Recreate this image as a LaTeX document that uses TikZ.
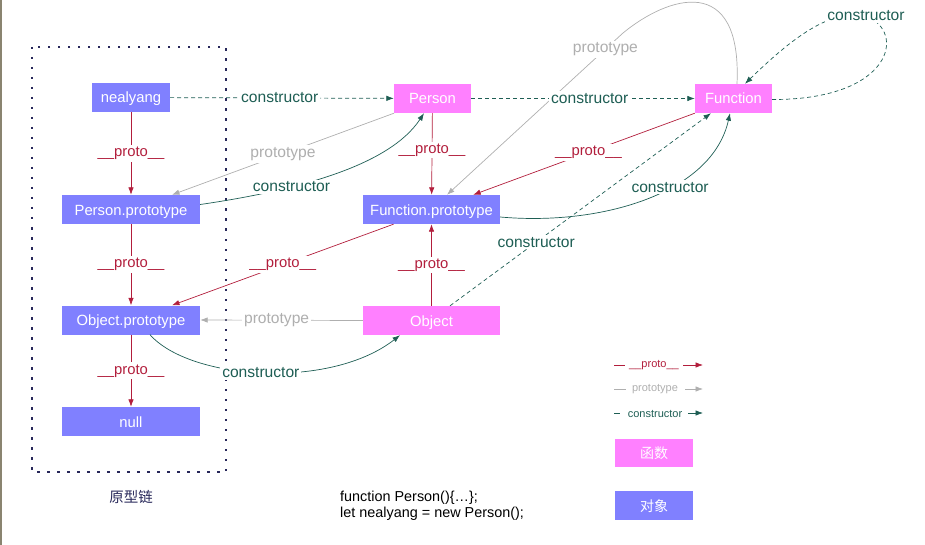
\documentclass[tikz,border=0pt]{standalone}
\usepackage{fontspec}
\setmainfont{Liberation Sans}
\newfontfamily\cjk{Noto Sans CJK SC}
\usetikzlibrary{arrows.meta}
\definecolor{objblue}{RGB}{128,128,255}
\definecolor{fnpink}{RGB}{255,128,255}
\definecolor{protored}{RGB}{178,30,60}
\definecolor{ptgray}{RGB}{175,175,175}
\definecolor{consteal}{RGB}{30,94,84}
\definecolor{boxnavy}{RGB}{40,40,90}
\definecolor{edgeline}{RGB}{138,132,112}
\begin{document}
\begin{tikzpicture}[x=1pt,y=-1pt,
  obj/.style={fill=objblue,text=white,minimum height=29pt,inner sep=0pt,text height=13pt,text depth=2pt,font=\fontsize{14.8}{16}\selectfont},
  fn/.style={fill=fnpink,text=white,minimum height=29pt,inner sep=0pt,text height=13pt,text depth=2pt,font=\fontsize{14.8}{16}\selectfont},
  tip/.style={-{Latex[length=7.5pt,width=5.5pt]}},
  protoedge/.style={tip,draw=protored,line width=0.7pt},
  ptedge/.style={tip,draw=ptgray,line width=0.7pt},
  consedge/.style={tip,draw=consteal,line width=0.7pt},
  dashedge/.style={dash pattern=on 4pt off 3pt},
  lbl/.style={fill=white,inner sep=2pt,font=\fontsize{15.6}{17}\selectfont},
  plbl/.style={lbl,text=protored,font=\fontsize{14.8}{17}\selectfont},
  glbl/.style={lbl,text=ptgray},
  clbl/.style={lbl,text=consteal},
  leg/.style={inner sep=0pt,font=\fontsize{11}{13}\selectfont},
]
\useasboundingbox (0,0) rectangle (925,545);
\fill[edgeline] (0,0) rectangle (1.8,545);

% dotted box
\draw[boxnavy,line width=1.6pt,dash pattern=on 2.5pt off 7.5pt] (32,47) rectangle (226,472);

% nodes
\node[obj,minimum width=78pt] (nealyang) at (131,97.5) {nealyang};
\node[obj,minimum width=138pt] (PP) at (131,209.5) {Person.prototype};
\node[obj,minimum width=138pt] (OP) at (131,320) {Object.prototype};
\node[obj,minimum width=138pt] (null) at (131,421.5) {null};
\node[fn,minimum width=77pt] (Person) at (432.5,98.5) {Person};
\node[obj,minimum width=137pt] (FP) at (431.5,209.5) {Function.prototype};
\node[fn,minimum width=137pt] (Obj) at (431.5,320.5) {Object};
\node[fn,minimum width=77pt] (Function) at (733.5,98.5) {Function};

% __proto__ edges
\draw[protoedge] (nealyang) -- node[plbl]{\_\_proto\_\_} (PP);
\draw[protoedge] (PP) -- node[plbl]{\_\_proto\_\_} (OP);
\draw[protoedge] (OP) -- node[plbl]{\_\_proto\_\_} (null);
\draw[protoedge] (Person) -- node[plbl,pos=0.45]{\_\_proto\_\_} (FP);
\draw[protoedge] (Obj) -- node[plbl]{\_\_proto\_\_} (FP);
\draw[protoedge] (Function.south west) -- node[plbl,pos=0.48]{\_\_proto\_\_} ([xshift=-27pt]FP.north east);
\draw[protoedge] ([xshift=-38pt]FP.south) -- node[plbl]{\_\_proto\_\_} ([xshift=41pt]OP.north);

% prototype edges
\draw[ptedge] ([xshift=-38.5pt]Person.south) -- node[glbl,pos=0.5]{prototype} ([xshift=41pt]PP.north);
\draw[ptedge] (Obj.west) -- node[glbl,pos=0.53]{prototype} (OP.east);
\draw[ptedge] ([xshift=3.5pt]Function.north) .. controls (742,-28) and (668,-4) .. (623,33)
  -- node[glbl,pos=0.1]{prototype} ([xshift=15.5pt]FP.north);

% constructor edges
\draw[consedge,dashedge] (nealyang) -- node[clbl,pos=0.49]{constructor} (Person);
\draw[consedge,dashedge] (Person) -- node[clbl,pos=0.53]{constructor} (Function);
\draw[consedge,dashedge] ([yshift=-1pt]Function.east) .. controls (892,100) and (907,32) .. (866,16)
  node[clbl]{constructor} .. controls (830,8) and (790,40) .. ([xshift=11.5pt]Function.north);
\draw[consedge] ([yshift=5pt]PP.east) .. controls (300,190) and (390,165) .. node[clbl,pos=0.32]{constructor} ([xshift=-8.5pt]Person.south);
\draw[consedge] ([yshift=-7.5pt]FP.east) .. controls (600,226) and (712,194) .. node[clbl,pos=0.6]{constructor} ([xshift=-3.5pt]Function.south);
\draw[consedge,dashedge] ([xshift=18.5pt]Obj.north) -- node[clbl,pos=0.33]{constructor} ([xshift=-22.5pt]Function.south);
\draw[consedge] ([xshift=19pt]OP.south) .. controls (190,380) and (330,390) .. node[clbl,pos=0.49]{constructor} ([xshift=-31.5pt]Obj.south);

% labels
\node[text=boxnavy,font=\cjk\fontsize{14.5}{16}\selectfont] (chain) at (131,497) {原型链};
\node[anchor=north west,align=left,inner sep=0pt,font=\fontsize{14.4}{16.5}\selectfont] (code) at (340,490.5)
  {function Person()\{…\};\\let nealyang = new Person();};

% legend
\coordinate (l1a) at (614,365); \coordinate (l1b) at (625,365);
\node[leg,text=protored] (lp) at (654,365) {\_\_proto\_\_};
\coordinate (l1c) at (683,365); \coordinate (l1d) at (703,365);
\draw[protored,line width=0.7pt] (l1a) -- (l1b);
\draw[protoedge] (l1c) -- (l1d);
\coordinate (l2a) at (614,389); \coordinate (l2b) at (626,389);
\node[leg,text=ptgray] (lg) at (655,389.5) {prototype};
\coordinate (l2c) at (685,389); \coordinate (l2d) at (703,389);
\draw[ptgray,line width=0.7pt] (l2a) -- (l2b);
\draw[ptedge] (l2c) -- (l2d);
\coordinate (l3a) at (614,413); \coordinate (l3b) at (620,413);
\node[leg,text=consteal] (lc) at (655,413.5) {constructor};
\coordinate (l3c) at (688,413); \coordinate (l3d) at (703,413);
\draw[consteal,line width=0.7pt] (l3a) -- (l3b);
\draw[consedge] (l3c) -- (l3d);

\node[fn,minimum width=78pt,minimum height=28pt,font=\cjk\fontsize{14}{16}\selectfont] (legfn) at (654,453) {函数};
\node[obj,minimum width=78pt,minimum height=29pt,font=\cjk\fontsize{14}{16}\selectfont] (legobj) at (654,505.5) {对象};
\end{tikzpicture}
\end{document}
